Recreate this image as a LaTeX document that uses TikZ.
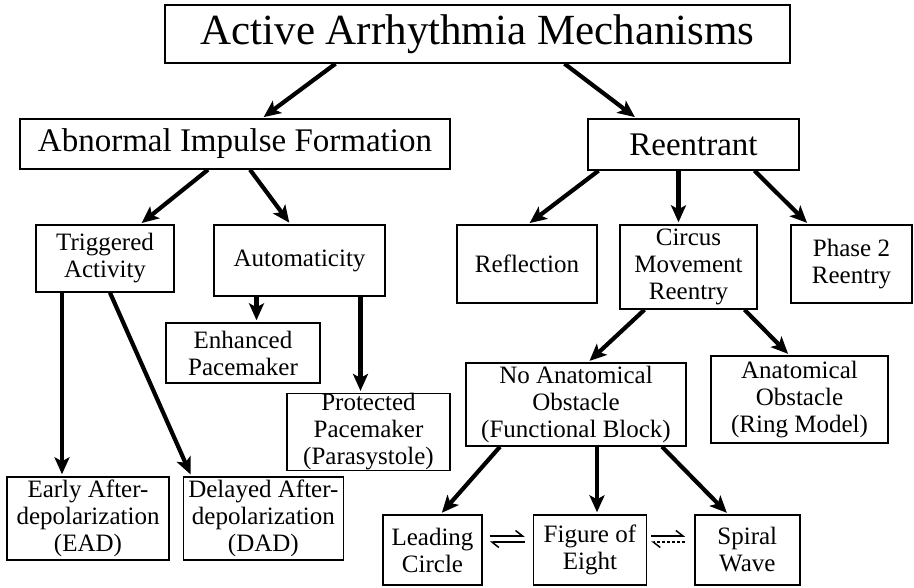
\documentclass[tikz,border=0pt]{standalone}
\usepackage{fontspec}
\setmainfont{Liberation Serif}
\usetikzlibrary{arrows.meta,positioning}

\begin{document}
\begin{tikzpicture}[
  x=1pt, y=-1pt,
  box/.style={rectangle, draw, line width=1.4pt, align=center, inner sep=0pt,
              font=\fontsize{25}{27}\selectfont},
  arr/.style={-{Stealth[length=17pt,width=15pt,inset=4pt]}, line width=4.2pt,
              shorten >=2pt},
  harp/.style={-{Straight Barb[left,length=7pt,width=11pt]}, line width=1.5pt}
]
\useasboundingbox (0,0) rectangle (914,587);

% ---- top ----
\node[box, font=\fontsize{43}{48}\selectfont, minimum width=625pt,
      minimum height=58pt] (title) at (477.5,34) {Active Arrhythmia Mechanisms};
\node[box, font=\fontsize{33}{36}\selectfont, minimum width=430pt,
      minimum height=50pt] (abn) at (235,144) {Abnormal Impulse Formation};
\node[box, font=\fontsize{33}{36}\selectfont, minimum width=211pt,
      minimum height=51pt] (reen) at (693.5,144.5) {Reentrant};

% ---- abnormal impulse formation ----
\node[box, minimum width=138pt, minimum height=67pt] (trig) at (105,258.5)
  {Triggered\\Activity};
\node[box, minimum width=171pt, minimum height=71pt] (auto) at (299.5,260.5)
  {Automaticity};
\node[box, minimum width=154pt, minimum height=60pt] (enh) at (243,353)
  {Enhanced\\Pacemaker};
\node[box, minimum width=163pt, minimum height=74pt] (prot) at (368.5,432)
  {Protected\\Pacemaker\\(Parasystole)};
\node[box, minimum width=162pt, minimum height=83pt] (early) at (88,518.5)
  {Early After-\\depolarization\\(EAD)};
\node[box, minimum width=160pt, minimum height=83pt, right=13pt of early] (del)
  {Delayed After-\\depolarization\\(DAD)};

% ---- reentrant ----
\node[box, minimum width=140pt, minimum height=78pt] (refl) at (527,264)
  {Reflection};
\node[box, minimum width=137pt, minimum height=84pt] (circ) at (688.5,267)
  {Circus\\Movement\\Reentry};
\node[box, minimum width=121pt, minimum height=78pt] (ph2) at (851.5,264)
  {Phase 2\\Reentry};
\node[box, minimum width=220pt, minimum height=83pt] (noanat) at (576,404.5)
  {No Anatomical\\Obstacle\\(Functional Block)};
\node[box, minimum width=177pt, minimum height=87pt] (anat) at (799.5,399.5)
  {Anatomical\\Obstacle\\(Ring Model)};
\node[box, minimum width=99pt, minimum height=70pt] (lead) at (432.5,550)
  {Leading\\Circle};
\node[box, minimum width=113pt, minimum height=70pt, right=50pt of lead] (fig)
  {Figure of\\Eight};
\node[box, minimum width=105pt, minimum height=70pt, right=47pt of fig] (spir)
  {Spiral\\Wave};

% arrows
\draw[arr] ([xshift=-142pt]title.south) -- ([xshift=27pt]abn.north);
\draw[arr] ([xshift=87pt]title.south) -- ([xshift=-57pt]reen.north);
\draw[arr] ([xshift=-27pt]abn.south) -- ([xshift=35pt]trig.north);
\draw[arr] ([xshift=15pt]abn.south) -- ([xshift=-9pt]auto.north);
\draw[arr] ([xshift=-95pt]reen.south) -- ([xshift=1pt]refl.north);
\draw[arr] ([xshift=-15pt]reen.south) -- ([xshift=-15pt]reen.south |- circ.north);
\draw[arr] ([xshift=61pt]reen.south) -- ([xshift=-43pt]ph2.north);
\draw[arr] ([xshift=-43pt]trig.south) -- ([xshift=-43pt]trig.south |- early.north);
\draw[arr] ([xshift=5pt]trig.south) -- ([xshift=-72pt]del.north);
\draw[arr] ([xshift=-43pt]auto.south) -- ([xshift=-43pt]auto.south |- enh.north);
\draw[arr] ([xshift=61pt]auto.south) -- ([xshift=61pt]auto.south |- prot.north);
\draw[arr] ([xshift=-44pt]circ.south) -- ([xshift=12pt]noanat.north);
\draw[arr] ([xshift=56pt]circ.south) -- ([xshift=-10pt]anat.north);
\draw[arr] ([xshift=-76pt]noanat.south) -- ([xshift=8pt]lead.north);
\draw[arr] ([xshift=21pt]noanat.south) -- ([xshift=21pt]noanat.south |- fig.north);
\draw[arr] ([xshift=86pt]noanat.south) -- ([xshift=-19pt]spir.north);

% equilibria
\draw[harp, shorten <=7pt, shorten >=8pt] ([yshift=14pt]lead.east) -- ([yshift=14pt]fig.west);
\draw[harp, shorten <=8pt, shorten >=7pt] ([yshift=8pt]fig.west) -- ([yshift=8pt]lead.east);
\draw[harp, shorten <=4pt, shorten >=9pt] ([yshift=14pt]fig.east) -- ([yshift=14pt]spir.west);
\draw[harp, dash pattern=on 3pt off 2pt, shorten <=9pt, shorten >=4pt]
  ([yshift=8pt]spir.west) -- ([yshift=8pt]fig.east);
\end{tikzpicture}
\end{document}
